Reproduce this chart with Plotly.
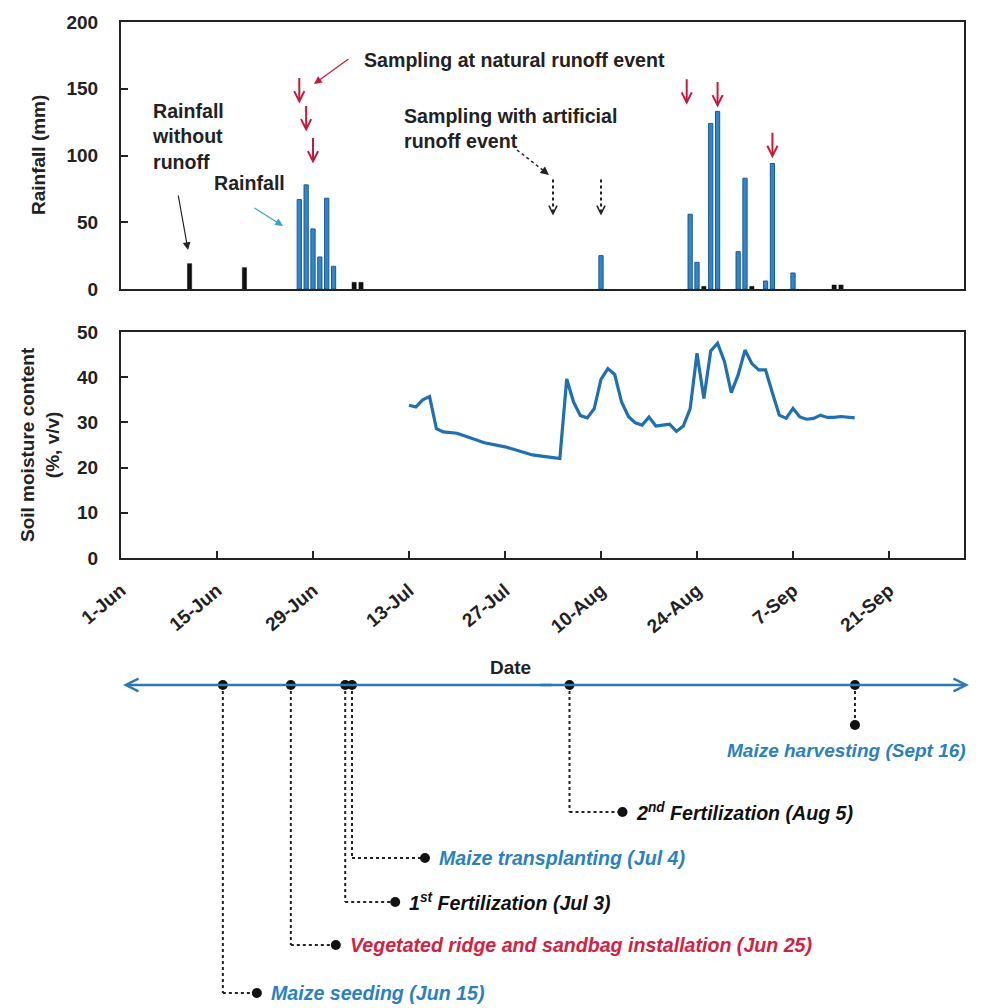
import plotly.graph_objects as go

# ---------------- data ----------------
runoff_rain_dates = ["2019-06-27", "2019-06-28", "2019-06-29", "2019-06-30", "2019-07-01", "2019-07-02",
                     "2019-08-10", "2019-08-23", "2019-08-24", "2019-08-26", "2019-08-27", "2019-08-30",
                     "2019-08-31", "2019-09-03", "2019-09-04", "2019-09-07"]
runoff_rain_mm = [67, 78, 45, 24, 68, 17, 25, 56, 20, 124, 133, 28, 83, 6, 94, 12]

other_rain_dates = ["2019-06-11", "2019-06-19", "2019-07-05", "2019-07-06", "2019-08-25", "2019-09-01",
                    "2019-09-13", "2019-09-14"]
other_rain_mm = [19, 16, 5, 5, 2, 2, 3, 3]

soil_dates = ["2019-07-13", "2019-07-14", "2019-07-15", "2019-07-16", "2019-07-17", "2019-07-18", "2019-07-20",
              "2019-07-24", "2019-07-27", "2019-07-31", "2019-08-03", "2019-08-04", "2019-08-05", "2019-08-06",
              "2019-08-07", "2019-08-08", "2019-08-09", "2019-08-10", "2019-08-11", "2019-08-12", "2019-08-13",
              "2019-08-14", "2019-08-15", "2019-08-16", "2019-08-17", "2019-08-18", "2019-08-19", "2019-08-20",
              "2019-08-21", "2019-08-22", "2019-08-23", "2019-08-24", "2019-08-25", "2019-08-26", "2019-08-27",
              "2019-08-28", "2019-08-29", "2019-08-30", "2019-08-31", "2019-09-01", "2019-09-02", "2019-09-03",
              "2019-09-04", "2019-09-05", "2019-09-06", "2019-09-07", "2019-09-08", "2019-09-09", "2019-09-10",
              "2019-09-11", "2019-09-12", "2019-09-13", "2019-09-14", "2019-09-15", "2019-09-16"]
soil_moisture = [33.8, 33.4, 35.0, 35.7, 28.6, 27.9, 27.6,
                 25.5, 24.6, 22.8, 22.2, 22.0, 39.6, 34.5,
                 31.5, 31.0, 33.0, 39.5, 41.9, 40.6, 34.5,
                 31.3, 29.9, 29.4, 31.2, 29.2, 29.4, 29.6,
                 28.0, 29.2, 33.0, 45.3, 35.3, 45.8, 47.5,
                 43.5, 36.6, 40.5, 46.0, 43.0, 41.6, 41.6,
                 36.5, 31.6, 30.9, 33.1, 31.2, 30.7, 30.9,
                 31.6, 31.1, 31.1, 31.3, 31.1, 31.0]

tick_dates = ["2019-06-01", "2019-06-15", "2019-06-29", "2019-07-13", "2019-07-27", "2019-08-10",
              "2019-08-24", "2019-09-07", "2019-09-21"]
tick_labels = ["1-Jun", "15-Jun", "29-Jun", "13-Jul", "27-Jul", "10-Aug", "24-Aug", "7-Sep", "21-Sep"]

natural_sampling_dates = ["2019-06-27", "2019-06-28", "2019-06-29", "2019-08-22 12:00", "2019-08-27", "2019-09-04"]
natural_sampling_mm = [139, 118, 94, 138, 136, 98]      # arrow tip heights
artificial_sampling_dates = ["2019-08-03", "2019-08-10"]

event_dates = ["2019-06-15", "2019-06-25", "2019-07-03", "2019-07-04", "2019-08-05", "2019-09-16"]
event_labels = ["Maize seeding (Jun 15)", "Vegetated ridge and sandbag installation (Jun 25)",
                "1<sup>st</sup> Fertilization (Jul 3)", "Maize transplanting (Jul 4)",
                "2<sup>nd</sup> Fertilization (Aug 5)", "Maize harvesting (Sept 16)"]

# ---------------- styling / layout helpers ----------------
OFF = 8                      # page body margin
W, H = 974, 1000
def fx(p):
    return (p - OFF) / W
def fy(p):
    return 1 - (p - OFF) / H

FONT = "Liberation Sans, Arial, sans-serif"
FS = 19.6
BLUE = "#2f86d0"
BLUE_EDGE = "#1c5a91"
LINE_BLUE = "#1f6fb3"
RED = "#c8173a"
LBL_BLUE = "#2b80c2"
LBL_RED = "#d4213f"
AX = "#222222"
DAY = 86400000

event_colors = [LBL_BLUE, LBL_RED, "#111111", LBL_BLUE, "#111111", LBL_BLUE]
event_levels = [993, 945, 902, 858, 812, 725]
event_conn = [34, 45, 50, 73, 53, 0]

x_range = ["2019-06-01", "2019-10-01 22:30"]
x3_range = ["2019-05-31 00:22", "2019-10-02 01:00"]
L, R = fx(121), fx(964)

fig = go.Figure()

fig.add_trace(go.Bar(x=other_rain_dates, y=other_rain_mm, width=0.62 * DAY,
                     marker=dict(color="#111111", line=dict(color="#111111", width=0.5)),
                     xaxis="x", yaxis="y", showlegend=False))
fig.add_trace(go.Bar(x=runoff_rain_dates, y=runoff_rain_mm, width=0.62 * DAY,
                     marker=dict(color=BLUE, line=dict(color=BLUE_EDGE, width=1)),
                     xaxis="x", yaxis="y", showlegend=False))
fig.add_trace(go.Scatter(x=soil_dates, y=soil_moisture, mode="lines",
                         line=dict(color=LINE_BLUE, width=3.2),
                         xaxis="x2", yaxis="y2", showlegend=False))
fig.add_trace(go.Scatter(x=event_dates, y=[0] * len(event_dates), mode="markers",
                         marker=dict(color="#111111", size=10),
                         xaxis="x3", yaxis="y3", showlegend=False))

tickfont = dict(family=FONT, size=19, color="#222222", weight="bold")
frame = dict(showline=True, mirror=True, linecolor=AX, linewidth=2, showgrid=False, zeroline=False,
             automargin=False)

fig.update_layout(
    width=W, height=H, margin=dict(l=0, r=0, t=0, b=0, autoexpand=False),
    paper_bgcolor="white", plot_bgcolor="white", barmode="overlay",
    font=dict(family=FONT, color="#222222"),
    xaxis=dict(domain=[L, R], range=x_range, type="date", showticklabels=False, ticks="",
               anchor="y", **frame),
    yaxis=dict(domain=[fy(289), fy(22)], range=[0, 200], dtick=50, ticks="inside", ticklen=7,
               tickwidth=2, tickcolor=AX, tickfont=tickfont, ticklabelstandoff=17, anchor="x", **frame),
    xaxis2=dict(domain=[L, R], range=x_range, type="date", tickvals=tick_dates, ticktext=tick_labels,
                ticks="inside", ticklen=7, tickwidth=2, tickcolor=AX, tickangle=-40,
                ticklabelstandoff=12, tickfont=tickfont, anchor="y2", **frame),
    yaxis2=dict(domain=[fy(558), fy(332)], range=[0, 50], dtick=10, ticks="inside", ticklen=7,
                tickwidth=2, tickcolor=AX, tickfont=tickfont, ticklabelstandoff=17, anchor="x2", **frame),
    xaxis3=dict(domain=[L, R], range=x3_range, type="date", visible=False, anchor="y3", automargin=False),
    yaxis3=dict(domain=[fy(695), fy(675)], range=[-1, 1], visible=False, anchor="x3", automargin=False),
)

shapes = []
ann = []

def text(x, y, s, size=FS, color="#222222", xanchor="left", yanchor="middle", xref="paper", yref="paper",
         angle=0, align="left", italic=False, xshift=0):
    s2 = "<b>" + s + "</b>"
    if italic:
        s2 = "<i>" + s2 + "</i>"
    ann.append(dict(x=x, y=y, xref=xref, yref=yref, text=s2, showarrow=False, xanchor=xanchor,
                    yanchor=yanchor, textangle=angle, align=align, xshift=xshift,
                    font=dict(family=FONT, size=size, color=color)))

def arrow(x, y, ax, ay, color, width=1.2, head=2, size=1.0, xref="paper", yref="paper"):
    ann.append(dict(x=x, y=y, xref=xref, yref=yref, ax=ax, ay=ay, axref="pixel", ayref="pixel",
                    text="", showarrow=True, arrowhead=head, arrowsize=size, arrowwidth=width,
                    arrowcolor=color, standoff=0, startstandoff=0))

# axis titles
text(fx(38), fy(155), "Rainfall (mm)", size=19, xanchor="center", angle=-90)
text(fx(40), fy(445), "Soil moisture content<br>(%, v/v)", size=19, xanchor="center", angle=-90,
     align="center")
text(fx(510), fy(667), "Date", size=19, xanchor="center")

# top-panel labels
text(fx(362), fy(60), "Sampling at natural runoff event")
arrow(fx(314), fy(84), 36, -26, RED, width=1.2, head=2, size=1.3)
for d, v in zip(natural_sampling_dates, natural_sampling_mm):
    arrow(d, v, 0, -27, RED, width=2, head=5, size=1.0, xref="x", yref="y")

text(fx(402), fy(128), "Sampling with artificial<br>runoff event")
shapes.append(dict(type="line", xref="paper", yref="paper", x0=fx(517), y0=fy(150), x1=fx(544), y1=fy(171),
                   line=dict(color="#222222", width=1.5, dash="dot")))
arrow(fx(549), fy(175), -7, -5.5, "#222222", width=1.2, head=2, size=1.4)
for d in artificial_sampling_dates:
    shapes.append(dict(type="line", xref="x", yref="y", x0=d, x1=d, y0=82, y1=58,
                       line=dict(color="#222222", width=2, dash="dot")))
    arrow(d, 55, 0, -6, "#222222", width=1.6, head=5, size=1.0, xref="x", yref="y")

text(fx(150), fy(136), "Rainfall<br>without<br>runoff")
arrow(fx(188), fy(250), -10, -56, "#222222", width=1.2, head=2, size=1.3)
text(fx(212), fy(183), "Rainfall")
arrow(fx(283), fy(226), -30, -19, "#3d9fcc", width=1.2, head=2, size=1.3)

# timeline
TL = fy(685)
arrow(fx(123), TL, 430, 0, "#2e78b7", width=2.5, head=5, size=1.0)
arrow(fx(969), TL, -430, 0, "#2e78b7", width=2.5, head=5, size=1.0)

for d, lab, col, lev, conn in zip(event_dates, event_labels, event_colors, event_levels, event_conn):
    shapes.append(dict(type="line", xref="x3", yref="paper", x0=d, x1=d, y0=TL, y1=fy(lev),
                       line=dict(color="#222222", width=2, dash="dot"), layer="below"))
    if conn > 0:
        shapes.append(dict(type="line", xref="x3", yref="paper", xsizemode="pixel", xanchor=d,
                           x0=0, x1=conn, y0=fy(lev), y1=fy(lev),
                           line=dict(color="#222222", width=2, dash="dot")))
    shapes.append(dict(type="circle", xref="x3", yref="paper", xsizemode="pixel", ysizemode="pixel",
                       xanchor=d, yanchor=fy(lev), x0=conn - 5, x1=conn + 5, y0=-5, y1=5,
                       fillcolor="#111111", line=dict(color="#111111", width=0)))
    if conn > 0:
        text(d, fy(lev), lab, color=col, xref="x3", xshift=conn + 12, italic=True)
    else:
        text(d, fy(lev + 25), lab, size=19, color=col, xref="x3", xanchor="center", italic=True,
             xshift=-8)

fig.update_layout(shapes=shapes, annotations=ann)
fig.write_html("out.html")
